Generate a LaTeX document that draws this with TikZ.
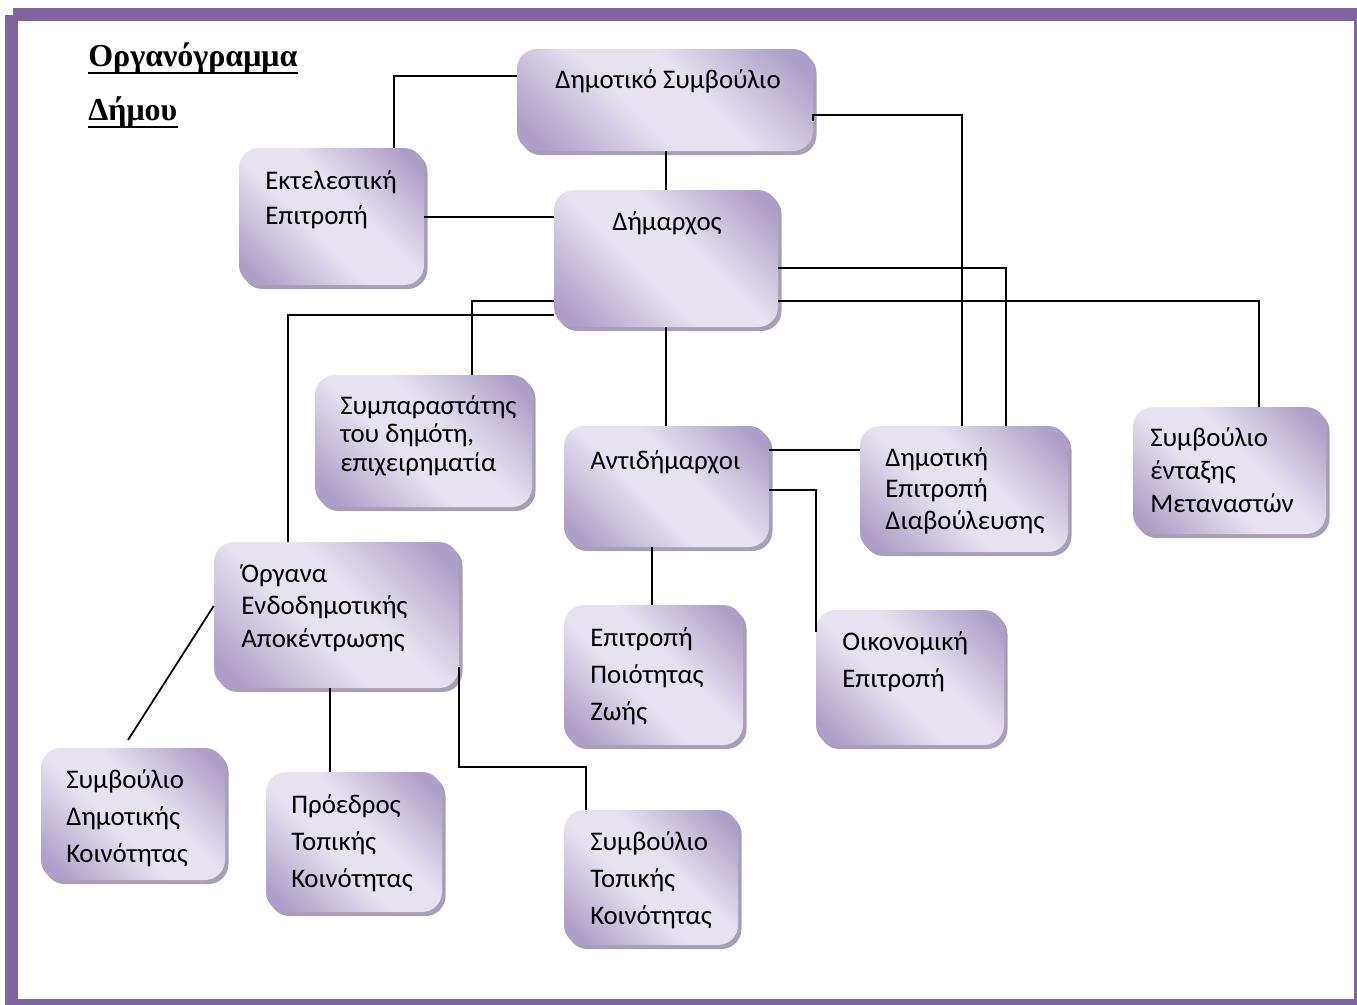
\documentclass[tikz,border=0pt]{standalone}
\usepackage{fontspec}
\setmainfont{Carlito}
\newfontfamily\titlefont{Liberation Serif}
\usetikzlibrary{fit,shadows}

\definecolor{frame}{HTML}{8064A2}
\definecolor{boxdark}{RGB}{174,159,200}
\definecolor{boxlight}{RGB}{231,226,240}
\definecolor{boxshadow}{RGB}{158,148,174}

% diagonal satin sheen used by every box
\pgfdeclarehorizontalshading{boxsheen}{100bp}{%
  color(0bp)=(boxdark); color(20bp)=(boxdark); color(43bp)=(boxlight);
  color(57bp)=(boxlight); color(80bp)=(boxdark); color(100bp)=(boxdark)}

% multi-line label: first baseline at the anchor, given line distance
\newcommand\boxlines[2]{{\fontsize{15.3pt}{#1pt}\selectfont
  \begin{tabular}[t]{@{}l@{}}#2\end{tabular}}}

\tikzset{
  orgbox/.style={rounded corners=0.4cm, inner sep=0pt,
    shading=boxsheen, shading angle=45,
    drop shadow={shadow xshift=0.07cm, shadow yshift=-0.08cm,
      fill=boxshadow, opacity=0.9}},
  lbl/.style={anchor=base west, inner sep=0pt, text=black},
  link/.style={draw=black, line width=1pt},
  titletext/.style={lbl, font=\titlefont\bfseries\fontsize{18.2pt}{21pt}\selectfont},
}

\begin{document}
\begin{tikzpicture}[x=0.02cm,y=-0.02cm]
\useasboundingbox (0,0) rectangle (1357,1005);

% page frame
\fill[frame] (13,8) rectangle (1357,21);
\fill[frame] (5,15) rectangle (18,1005);
\fill[frame] (1354,8) rectangle (1357,1005);
\fill[frame] (5,999) rectangle (1357,1005);

% title
\node[titletext] (title1) at (88,66) {Οργανόγραμμα};
\node[titletext] (title2) at (88,120) {Δήμου};
\draw[line width=1.2pt] ([yshift=-3.8pt]title1.base west) -- ([yshift=-3.8pt]title1.base east);
\draw[line width=1.2pt] ([yshift=-3.8pt]title2.base west) -- ([yshift=-3.8pt]title2.base east);

% boxes
\node[orgbox, fit={(517,49) (813,151)}] (ds) {};
\node[orgbox, fit={(554,190) (778,327)}] (dm) {};
\node[orgbox, fit={(239,148) (424,285)}] (ee) {};
\node[orgbox, fit={(315,375) (532,507)}] (sp) {};
\node[orgbox, fit={(564,426) (769,547)}] (ad) {};
\node[orgbox, fit={(860,426) (1068,552)}] (de) {};
\node[orgbox, fit={(1133,407) (1326,534)}] (sm) {};
\node[orgbox, fit={(214,542) (459,688)}] (oe) {};
\node[orgbox, fit={(564,605) (743,745)}] (ep) {};
\node[orgbox, fit={(816,610) (1004,745)}] (oik) {};
\node[orgbox, fit={(41,748) (225,880)}] (sdk) {};
\node[orgbox, fit={(266,772) (442,912)}] (ptk) {};
\node[orgbox, fit={(564,810) (738,945)}] (stk) {};

% labels
\node[lbl] (ds-t) at (555,88) {\boxlines{20}{Δημοτικό Συμβούλιο}};
\node[lbl] (dm-t) at (612,230) {\boxlines{20}{Δήμαρχος}};
\node[lbl] (ee-t) at (265,189) {\boxlines{20.4}{Εκτελεστική\\Επιτροπή}};
\node[lbl] (sp-t) at (340,414) {\boxlines{16.4}{Συμπαραστάτης\\του δημότη,\\επιχειρηματία}};
\node[lbl] (ad-t) at (590,469) {\boxlines{20}{Αντιδήμαρχοι}};
\node[lbl] (de-t) at (885,466) {\boxlines{18.1}{Δημοτική\\Επιτροπή\\Διαβούλευσης}};
\node[lbl] (sm-t) at (1150,446) {\boxlines{18.9}{Συμβούλιο\\ένταξης\\Μεταναστών}};
\node[lbl] (oe-t) at (241,582) {\boxlines{18.7}{Όργανα\\Ενδοδημοτικής\\Αποκέντρωσης}};
\node[lbl] (ep-t) at (590,646) {\boxlines{21.3}{Επιτροπή\\Ποιότητας\\Ζωής}};
\node[lbl] (oik-t) at (842,650) {\boxlines{21.5}{Οικονομική\\Επιτροπή}};
\node[lbl] (sdk-t) at (66,788) {\boxlines{21.3}{Συμβούλιο\\Δημοτικής\\Κοινότητας}};
\node[lbl] (ptk-t) at (291,813) {\boxlines{21.3}{Πρόεδρος\\Τοπικής\\Κοινότητας}};
\node[lbl] (stk-t) at (590,850) {\boxlines{21.3}{Συμβούλιο\\Τοπικής\\Κοινότητας}};

% connectors
\coordinate (sdk-end) at (128,740);
\draw[link] (ee.north -| 394,0) |- (ds.west |- 0,76);
\draw[link] (ds.east |- 0,121) -- (ds.east |- 0,115) -| (de.north -| 962,0);
\draw[link] (ds.south -| 666,0) -- (dm.north -| 666,0);
\draw[link] (ee.east |- 0,217) -- (dm.west |- 0,217);
\draw[link] (dm.east |- 0,268) -| (de.north -| 1006,0);
\draw[link] (dm.east |- 0,301) -| (sm.north -| 1259,0);
\draw[link] (dm.west |- 0,301) -| (sp.north -| 472,0);
\draw[link] (dm.west |- 0,315) -| (oe.north -| 288,0);
\draw[link] (dm.south -| 666,0) -- (ad.north -| 666,0);
\draw[link] (ad.east |- 0,450) -- (de.west |- 0,450);
\draw[link] (ad.east |- 0,490) -| (oik.west |- 0,632);
\draw[link] (ad.south -| 652,0) -- (ep.north -| 652,0);
\draw[link] (oe.west |- 0,606) -- (sdk-end);
\draw[link] (oe.south -| 330,0) -- (ptk.north -| 330,0);
\draw[link] (oe.east |- 0,667) -- (oe.east |- 0,767) -| (stk.north -| 586,0);
\end{tikzpicture}
\end{document}
